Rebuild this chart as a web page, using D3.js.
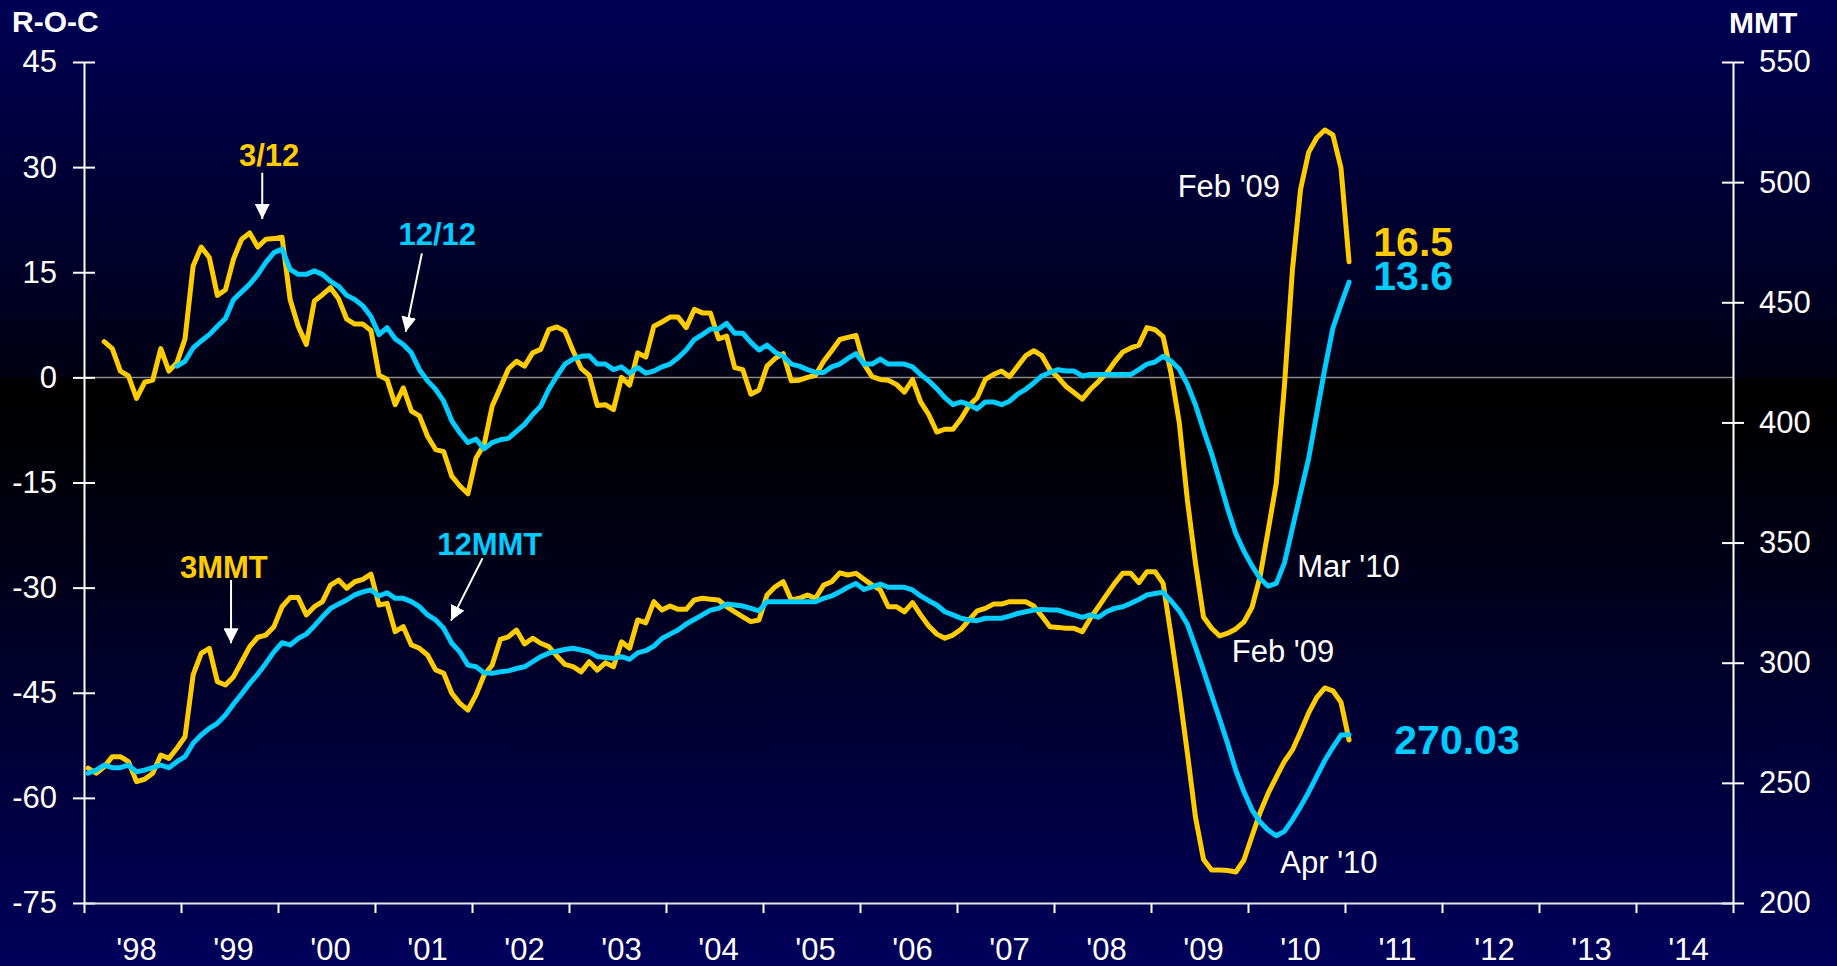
<!DOCTYPE html>
<html>
<head>
<meta charset="utf-8">
<script src="https://cdn.jsdelivr.net/npm/d3@7"></script>
<style>
html, body { margin: 0; padding: 0; background: #000; overflow: hidden; }
svg text { font-family: "Liberation Sans", Arial, sans-serif; }
</style>
</head>
<body>
<div id="chart"></div>
<script>
// Data (monthly)
// ===========================

// x axis: months counted from Jan 1998, one label per year
var yearLabels = ["'98", "'99", "'00", "'01", "'02", "'03", "'04", "'05", "'06",
  "'07", "'08", "'09", "'10", "'11", "'12", "'13", "'14"];
var leftTicks = [-75, -60, -45, -30, -15, 0, 15, 30, 45];
var rightTicks = [200, 250, 300, 350, 400, 450, 500, 550];

// 3/12 rate of change, Mar 1998 - Jan 2011
var roc3Start = 2;
var roc3 = [5.1, 4.1, 0.9, 0.2, -3.0, -0.7, -0.4, 4.1, 0.9, 2.1,
  5.5, 15.9, 18.6, 17.1, 11.7, 12.5, 16.9, 19.7, 20.6, 18.6,
  19.7, 19.8, 20.0, 11.1, 7.3, 4.7, 10.9, 11.8, 12.8, 11.2,
  8.3, 7.6, 7.6, 6.7, 0.3, -0.3, -3.9, -1.5, -4.8, -5.5,
  -8.4, -10.3, -10.6, -14.1, -15.5, -16.6, -11.5, -9.6, -4.1, -1.5,
  1.2, 2.3, 1.6, 3.5, 4.0, 6.8, 7.2, 6.6, 3.8, 1.3,
  0.3, -4.0, -3.9, -4.6, 0.0, -1.1, 3.5, 2.9, 7.3, 7.9,
  8.6, 8.6, 7.1, 9.7, 9.2, 9.2, 5.5, 5.9, 1.4, 1.1,
  -2.4, -1.8, 1.6, 2.7, 3.4, -0.5, -0.4, 0.0, 0.3, 2.3,
  3.8, 5.4, 5.7, 6.0, 1.9, 0.1, -0.3, -0.4, -1.0, -2.1,
  -0.3, -3.5, -5.3, -7.8, -7.4, -7.4, -5.9, -4.0, -2.9, -0.3,
  0.4, 0.9, 0.1, 1.6, 3.1, 3.8, 3.1, 1.1, 0.0, -1.3,
  -2.2, -3.1, -1.7, -0.6, 0.6, 2.2, 3.6, 4.2, 4.6, 7.1,
  6.8, 5.8, 0.5, -6.5, -17.5, -26.5, -34.2, -35.8, -36.9, -36.5,
  -35.9, -34.9, -32.8, -28.4, -21.8, -15.1, -1.3, 15.4, 26.8, 32.1,
  34.2, 35.3, 34.6, 29.9, 16.5];

// 12/12 rate of change, Dec 1998 - Jan 2011
var roc12Start = 11;
var roc12 = [1.6,
  2.3, 4.2, 5.2, 6.1, 7.3, 8.4, 11.1, 12.2, 13.3, 14.7,
  16.4, 17.8, 18.3, 15.4, 14.7, 14.7, 15.2, 14.7, 13.7, 13.0,
  11.7, 11.1, 10.2, 8.7, 6.1, 7.1, 5.5, 4.7, 3.5, 1.1,
  -0.5, -1.7, -3.4, -6.2, -7.9, -9.3, -8.8, -10.2, -9.3, -8.9,
  -8.7, -7.7, -6.7, -5.3, -4.1, -1.7, 0.2, 1.9, 2.6, 3.0,
  3.1, 1.9, 1.9, 1.1, 1.5, 0.6, 1.4, 0.6, 0.9, 1.5,
  1.9, 2.8, 3.9, 5.4, 6.1, 6.9, 6.9, 7.7, 6.3, 6.3,
  5.0, 3.9, 4.6, 3.6, 3.0, 1.9, 1.6, 1.1, 0.7, 0.7,
  1.5, 1.9, 2.7, 3.4, 1.9, 1.9, 2.6, 1.9, 1.9, 1.9,
  1.5, 0.4, -0.5, -1.6, -2.9, -3.9, -3.5, -3.9, -4.5, -3.5,
  -3.5, -3.9, -3.4, -2.4, -1.7, -0.8, 0.2, 0.7, 1.1, 0.9,
  0.9, 0.2, 0.4, 0.4, 0.4, 0.4, 0.4, 0.4, 1.1, 1.9,
  2.2, 3.0, 2.3, 1.2, -1.0, -3.9, -7.5, -10.9, -14.8, -18.8,
  -22.3, -24.8, -26.9, -28.7, -29.8, -29.4, -26.5, -21.5, -16.5, -11.6,
  -5.2, 1.2, 7.0, 10.4, 13.6];

// 3 month moving total (MMT), Jan 1998 - Jan 2011
var mmtStart = 0;
var mmt3 = [256.1, 254.0, 256.7, 260.9, 260.9, 258.8, 250.5, 251.5, 254.0, 261.6,
  260.2, 264.4, 269.2, 294.9, 303.9, 306.0, 292.1, 290.7, 294.2, 300.4,
  306.7, 310.6, 311.5, 315.0, 323.3, 327.1, 327.1, 319.9, 323.3, 325.4,
  332.3, 334.4, 331.0, 333.7, 334.7, 336.9, 324.0, 324.7, 312.9, 315.0,
  307.4, 306.0, 303.2, 297.0, 295.6, 287.3, 283.1, 280.3, 286.6, 294.9,
  299.0, 309.7, 310.8, 313.6, 307.8, 310.2, 308.1, 306.7, 302.8, 299.3,
  298.4, 296.2, 300.4, 296.9, 300.0, 298.3, 308.7, 306.0, 317.8, 316.6,
  325.4, 321.9, 323.6, 322.2, 322.2, 326.1, 326.8, 326.4, 326.1, 323.3,
  321.2, 319.1, 317.1, 317.8, 328.2, 331.6, 333.7, 326.1, 326.8, 328.2,
  326.8, 332.3, 333.7, 337.4, 336.5, 337.2, 334.7, 332.3, 330.3, 323.3,
  323.3, 321.2, 325.0, 319.9, 315.3, 311.9, 310.2, 311.5, 313.9, 317.8,
  321.6, 322.6, 324.4, 324.4, 325.4, 325.4, 325.4, 323.6, 319.4, 315.0,
  314.7, 314.3, 314.3, 312.9, 318.5, 323.3, 328.2, 333.0, 337.2, 337.2,
  333.3, 337.9, 337.9, 333.0, 311.0, 287.8, 262.4, 235.8, 218.1, 213.7,
  213.7, 213.5, 212.9, 217.9, 227.9, 237.7, 245.7, 252.4, 258.9, 263.7,
  271.2, 279.1, 285.5, 289.5, 288.3, 283.6, 267.8];

// 12 month moving total, Jan 1998 - Jan 2011
var mmt12 = [254.0, 255.3, 257.4, 256.3, 256.3, 257.4, 254.6, 255.3, 256.3, 257.4,
  256.3, 258.8, 260.9, 266.5, 269.9, 272.7, 274.8, 278.2, 282.8, 287.0,
  291.4, 295.3, 299.7, 304.5, 308.3, 307.4, 310.1, 311.9, 315.3, 319.1,
  322.6, 324.4, 326.1, 328.2, 329.5, 330.3, 327.8, 329.1, 326.8, 326.8,
  325.4, 323.3, 319.9, 317.8, 314.3, 308.1, 304.5, 299.0, 298.3, 295.8,
  295.6, 296.2, 296.6, 297.6, 298.3, 300.4, 302.5, 304.0, 304.8, 305.5,
  306.0, 305.3, 304.5, 302.6, 302.2, 301.8, 302.5, 301.4, 304.1, 305.0,
  306.9, 310.1, 311.9, 313.6, 316.1, 318.0, 319.9, 321.9, 322.6, 324.4,
  324.0, 323.6, 322.6, 321.6, 325.4, 325.4, 325.4, 325.4, 325.4, 325.4,
  325.4, 326.8, 327.8, 329.5, 331.4, 333.0, 330.5, 331.6, 332.7, 331.4,
  331.4, 331.4, 330.3, 327.8, 325.8, 324.0, 321.2, 319.9, 318.5, 317.8,
  317.5, 318.5, 318.5, 318.5, 319.4, 320.5, 321.2, 321.9, 322.2, 321.9,
  321.9, 320.8, 319.9, 318.9, 319.9, 318.9, 321.2, 322.6, 323.3, 324.7,
  326.3, 328.2, 328.8, 329.3, 325.6, 321.6, 316.0, 306.6, 296.7, 286.5,
  276.5, 266.2, 255.1, 246.3, 238.8, 233.7, 230.3, 228.0, 229.8, 234.6,
  240.1, 246.1, 252.7, 259.3, 264.8, 269.9, 270.03];

var yellow = "#FFCC00";
var cyan = "#00CCFF";

// Section 1: Setup
// ===========================
var width = 1837;
var height = 966;

var svg = d3.select("#chart").append("svg")
  .attr("width", width)
  .attr("height", height);

var defs = svg.append("defs");

// dark navy -> black at the zero line -> navy at the bottom
var bg = defs.append("linearGradient")
  .attr("id", "bg")
  .attr("x1", 0).attr("y1", 0).attr("x2", 0).attr("y2", 1);
bg.append("stop").attr("offset", "0").attr("stop-color", "#000056");
bg.append("stop").attr("offset", "0.39").attr("stop-color", "#000014");
bg.append("stop").attr("offset", "0.392").attr("stop-color", "#000000");
bg.append("stop").attr("offset", "0.45").attr("stop-color", "#000003");
bg.append("stop").attr("offset", "1").attr("stop-color", "#00005C");

defs.append("marker")
  .attr("id", "arrowHead")
  .attr("viewBox", "0 0 10 10")
  .attr("refX", 10)
  .attr("refY", 5)
  .attr("markerWidth", 15)
  .attr("markerHeight", 15)
  .attr("markerUnits", "userSpaceOnUse")
  .attr("orient", "auto")
  .append("path")
  .attr("d", "M0,0L10,5L0,10Z")
  .attr("fill", "#fff");

svg.append("rect")
  .attr("width", width)
  .attr("height", height)
  .attr("fill", "url(#bg)");

// scales: months on x, R-O-C on the left, MMT on the right
var x = d3.scaleLinear().domain([0, yearLabels.length * 12]).range([84, 1733]);
var yL = d3.scaleLinear().domain([-75, 45]).range([903, 62]);
var yR = d3.scaleLinear().domain([200, 550]).range([903, 62]);

// zero line
svg.append("line")
  .attr("x1", x(0)).attr("x2", x(yearLabels.length * 12))
  .attr("y1", yL(0)).attr("y2", yL(0))
  .attr("stroke", "#8a8a8a")
  .attr("stroke-width", 1.5);

// Section 2: Axes
// ===========================
function styleAxis(g) {
  g.select(".domain").attr("stroke", "#fff").attr("stroke-width", 2);
  g.selectAll(".tick line").attr("stroke", "#fff").attr("stroke-width", 2);
  g.selectAll(".tick text")
    .attr("fill", "#fff")
    .style("font-size", "31px");
}

// plain hyphen for negatives, like the original
var plain = function(d) { return String(d); };

var leftAxis = svg.append("g")
  .attr("transform", "translate(" + x(0) + ",0)")
  .call(d3.axisLeft(yL).tickValues(leftTicks).tickFormat(plain)
    .tickSize(11).tickSizeOuter(0).tickPadding(16));
styleAxis(leftAxis);
leftAxis.selectAll(".tick line").attr("x1", 11);

var rightAxis = svg.append("g")
  .attr("transform", "translate(" + x(yearLabels.length * 12) + ",0)")
  .call(d3.axisRight(yR).tickValues(rightTicks).tickFormat(plain)
    .tickSize(11).tickSizeOuter(0).tickPadding(15));
styleAxis(rightAxis);
rightAxis.selectAll(".tick line").attr("x1", -11);

var bottomAxis = svg.append("g")
  .attr("transform", "translate(0," + yL(-75) + ")")
  .call(d3.axisBottom(x)
    .tickValues(d3.range(0, yearLabels.length * 12 + 1, 12))
    .tickFormat("")
    .tickSize(10)
    .tickSizeOuter(0));
styleAxis(bottomAxis);
bottomAxis.select(".domain").attr("stroke", "#e6e6e6");

svg.append("g").selectAll("text")
  .data(yearLabels)
  .enter()
  .append("text")
  .attr("x", function(d, i) { return x(i * 12 + 6) + 4; })
  .attr("y", 960)
  .attr("text-anchor", "middle")
  .attr("fill", "#fff")
  .style("font-size", "31px")
  .text(function(d) { return d; });

// axis titles
svg.append("text")
  .attr("x", 12).attr("y", 32)
  .attr("fill", "#fff")
  .style("font-size", "30px")
  .style("font-weight", "bold")
  .text("R-O-C");

svg.append("text")
  .attr("x", 1729).attr("y", 33)
  .attr("fill", "#fff")
  .style("font-size", "30px")
  .style("font-weight", "bold")
  .text("MMT");

// Section 3: Lines
// ===========================
function drawLine(values, start, yScale, color) {
  var line = d3.line()
    .x(function(d, i) { return x(start + i + 0.5); })
    .y(function(d) { return yScale(d); });
  svg.append("path")
    .datum(values)
    .attr("d", line)
    .attr("fill", "none")
    .attr("stroke", color)
    .attr("stroke-width", 5)
    .attr("stroke-linejoin", "round")
    .attr("stroke-linecap", "round");
}

drawLine(mmt3, mmtStart, yR, yellow);
drawLine(mmt12, mmtStart, yR, cyan);
drawLine(roc3, roc3Start, yL, yellow);
drawLine(roc12, roc12Start, yL, cyan);

// Section 4: Annotations (positions in months / axis units)
// ===========================
var arrows = [
  { scale: yL, from: [22.05, 29.2], to: [22.05, 22.6] },
  { scale: yL, from: [41.8, 17.7], to: [39.8, 6.5] },
  { scale: yR, from: [18.19, 334.4], to: [18.19, 308.1] },
  { scale: yR, from: [49.3, 343.5], to: [45.4, 317.5] }
];

svg.append("g").selectAll("line")
  .data(arrows)
  .enter()
  .append("line")
  .attr("x1", function(d) { return x(d.from[0]); })
  .attr("y1", function(d) { return d.scale(d.from[1]); })
  .attr("x2", function(d) { return x(d.to[0]); })
  .attr("y2", function(d) { return d.scale(d.to[1]); })
  .attr("stroke", "#fff")
  .attr("stroke-width", 2)
  .attr("marker-end", "url(#arrowHead)");

var last = function(a) { return a[a.length - 1]; };

var notes = [
  { text: "3/12", scale: yL, m: 22.9, v: 30.2, color: yellow, bold: true, anchor: "middle", size: 31 },
  { text: "12/12", scale: yL, m: 43.7, v: 18.9, color: cyan, bold: true, anchor: "middle", size: 31 },
  { text: "3MMT", scale: yR, m: 17.3, v: 335.3, color: yellow, bold: true, anchor: "middle", size: 31 },
  { text: "12MMT", scale: yR, m: 50.2, v: 344.8, color: cyan, bold: true, anchor: "middle", size: 31 },
  { text: "Feb '09", scale: yL, m: 135.3, v: 25.8, color: "#fff", bold: false, anchor: "start", size: 31 },
  { text: "Mar '10", scale: yL, m: 150.1, v: -28.5, color: "#fff", bold: false, anchor: "start", size: 31 },
  { text: "Feb '09", scale: yL, m: 142.0, v: -40.6, color: "#fff", bold: false, anchor: "start", size: 31 },
  { text: "Apr '10", scale: yR, m: 148.0, v: 212.5, color: "#fff", bold: false, anchor: "start", size: 31 },
  { text: d3.format(".2f")(last(mmt12)), scale: yR, m: 162.1, v: 262.0, color: cyan, bold: true, anchor: "start", size: 41 }
];

svg.append("g").selectAll("text")
  .data(notes)
  .enter()
  .append("text")
  .attr("x", function(d) { return x(d.m); })
  .attr("y", function(d) { return d.scale(d.v); })
  .attr("text-anchor", function(d) { return d.anchor; })
  .attr("fill", function(d) { return d.color; })
  .style("font-size", function(d) { return d.size + "px"; })
  .style("font-weight", function(d) { return d.bold ? "bold" : "normal"; })
  .text(function(d) { return d.text; });

// last R-O-C values, stacked as one two-line label
var rocEnd = svg.append("text")
  .attr("x", x(159.5))
  .attr("y", yL(17.3))
  .style("font-size", "41px")
  .style("font-weight", "bold");
rocEnd.append("tspan")
  .attr("x", x(159.5))
  .attr("fill", yellow)
  .text(d3.format(".1f")(last(roc3)));
rocEnd.append("tspan")
  .attr("x", x(159.5))
  .attr("dy", yL(12.5) - yL(17.3))
  .attr("fill", cyan)
  .text(d3.format(".1f")(last(roc12)));
</script>
</body>
</html>
